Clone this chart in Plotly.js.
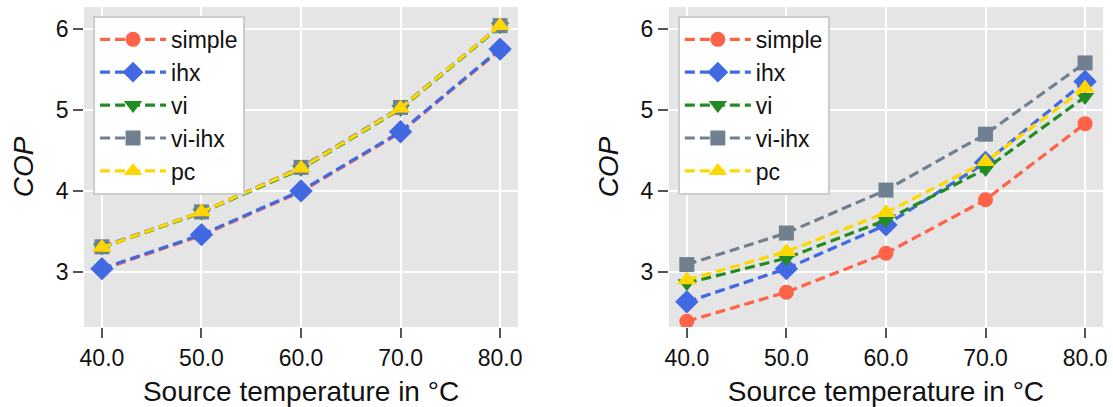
<!DOCTYPE html>
<html><head><meta charset="utf-8">
<script src="https://cdn.plot.ly/plotly-3.0.1.min.js"></script>
<style>html,body{margin:0;padding:0;background:#fff}#chart{width:1113px;height:407px}</style>
</head><body><div id="chart"></div>
<script>
const temps = [40, 50, 60, 70, 80];
const seriesNames = ["simple", "ihx", "vi", "vi-ihx", "pc"];
// left panel
const leftSimple = [3.03, 3.45, 3.99, 4.72, 5.74];
const leftIhx    = [3.04, 3.46, 4.00, 4.73, 5.75];
const leftVi     = [3.30, 3.73, 4.27, 5.01, 6.03];
const leftViIhx  = [3.31, 3.74, 4.29, 5.03, 6.04];
const leftPc     = [3.30, 3.74, 4.28, 5.02, 6.04];
// right panel
const rightSimple = [2.39, 2.75, 3.23, 3.89, 4.83];
const rightIhx    = [2.63, 3.04, 3.58, 4.35, 5.35];
const rightVi     = [2.86, 3.17, 3.64, 4.27, 5.16];
const rightViIhx  = [3.09, 3.48, 4.01, 4.70, 5.58];
const rightPc     = [2.90, 3.25, 3.73, 4.36, 5.27];
const tickVals = [40, 50, 60, 70, 80];
const tickText = ["40.0", "50.0", "60.0", "70.0", "80.0"];

const colors = ["#FF6347", "#4169E1", "#228B22", "#708090", "#FFD700"];
const symbols = ["circle", "diamond", "triangle-down", "square", "triangle-up"];
const sizes = [15, 18, 16, 15, 17];

const leftData = [leftSimple, leftIhx, leftVi, leftViIhx, leftPc];
const rightData = [rightSimple, rightIhx, rightVi, rightViIhx, rightPc];

const traces = [];
function add(data, xa, ya, leg) {
  data.forEach((ys, i) => {
    traces.push({
      x: temps, y: ys, xaxis: xa, yaxis: ya, legend: leg,
      name: seriesNames[i], type: "scatter", mode: "lines+markers",
      line: {color: colors[i], width: 3.2, dash: "10px,5px"},
      marker: {color: colors[i], symbol: symbols[i], size: sizes[i], line: {width: 0}}
    });
  });
}
add(leftData, "x", "y", "legend");
add(rightData, "x2", "y2", "legend2");

const fam = "Liberation Sans, Arial, sans-serif";
const font = {family: fam, color: "#111"};
function xax(domain, anchor) {
  return {
    domain: domain, anchor: anchor, range: [38.2, 81.8],
    tickvals: tickVals, ticktext: tickText,
    ticks: "outside", ticklen: 10, tickwidth: 1.5, tickcolor: "#555",
    tickfont: {family: fam, size: 23, color: "#111"},
    showgrid: true, gridcolor: "#fff", gridwidth: 1.8, zeroline: false, showline: false,
    title: {text: "Source temperature in °C", font: {family: fam, size: 28, color: "#111"}, standoff: 11}
  };
}
function yax(anchor) {
  return {
    domain: [0.1966, 0.9828], anchor: anchor, range: [2.32, 6.27],
    tickvals: [3, 4, 5, 6], ticktext: ["3", "4", "5", "6"],
    ticks: "outside", ticklen: 10, tickwidth: 1.5, tickcolor: "#555",
    tickfont: {family: fam, size: 23, color: "#111"},
    showgrid: true, gridcolor: "#fff", gridwidth: 1.8, zeroline: false, showline: false,
    title: {text: "<i>COP</i>", font: {family: fam, size: 28, color: "#111"}, standoff: 13}
  };
}
function leg(x) {
  return {
    x: x, y: 0.961, xanchor: "left", yanchor: "top",
    bgcolor: "#fff", bordercolor: "#ccc", borderwidth: 2,
    font: {family: fam, size: 23, color: "#111"},
    itemwidth: 66, tracegroupgap: 0
  };
}
const layout = {
  width: 1113, height: 407,
  margin: {l: 0, r: 0, t: 0, b: 0},
  paper_bgcolor: "#fff", plot_bgcolor: "#E5E5E5",
  font: font,
  showlegend: true,
  xaxis: xax([0.0755, 0.4654], "y"),
  yaxis: yax("x"),
  xaxis2: xax([0.601, 0.991], "y2"),
  yaxis2: yax("x2"),
  legend: leg(0.0836),
  legend2: leg(0.609)
};
Plotly.newPlot("chart", traces, layout, {displayModeBar: false});
</script></body></html>
